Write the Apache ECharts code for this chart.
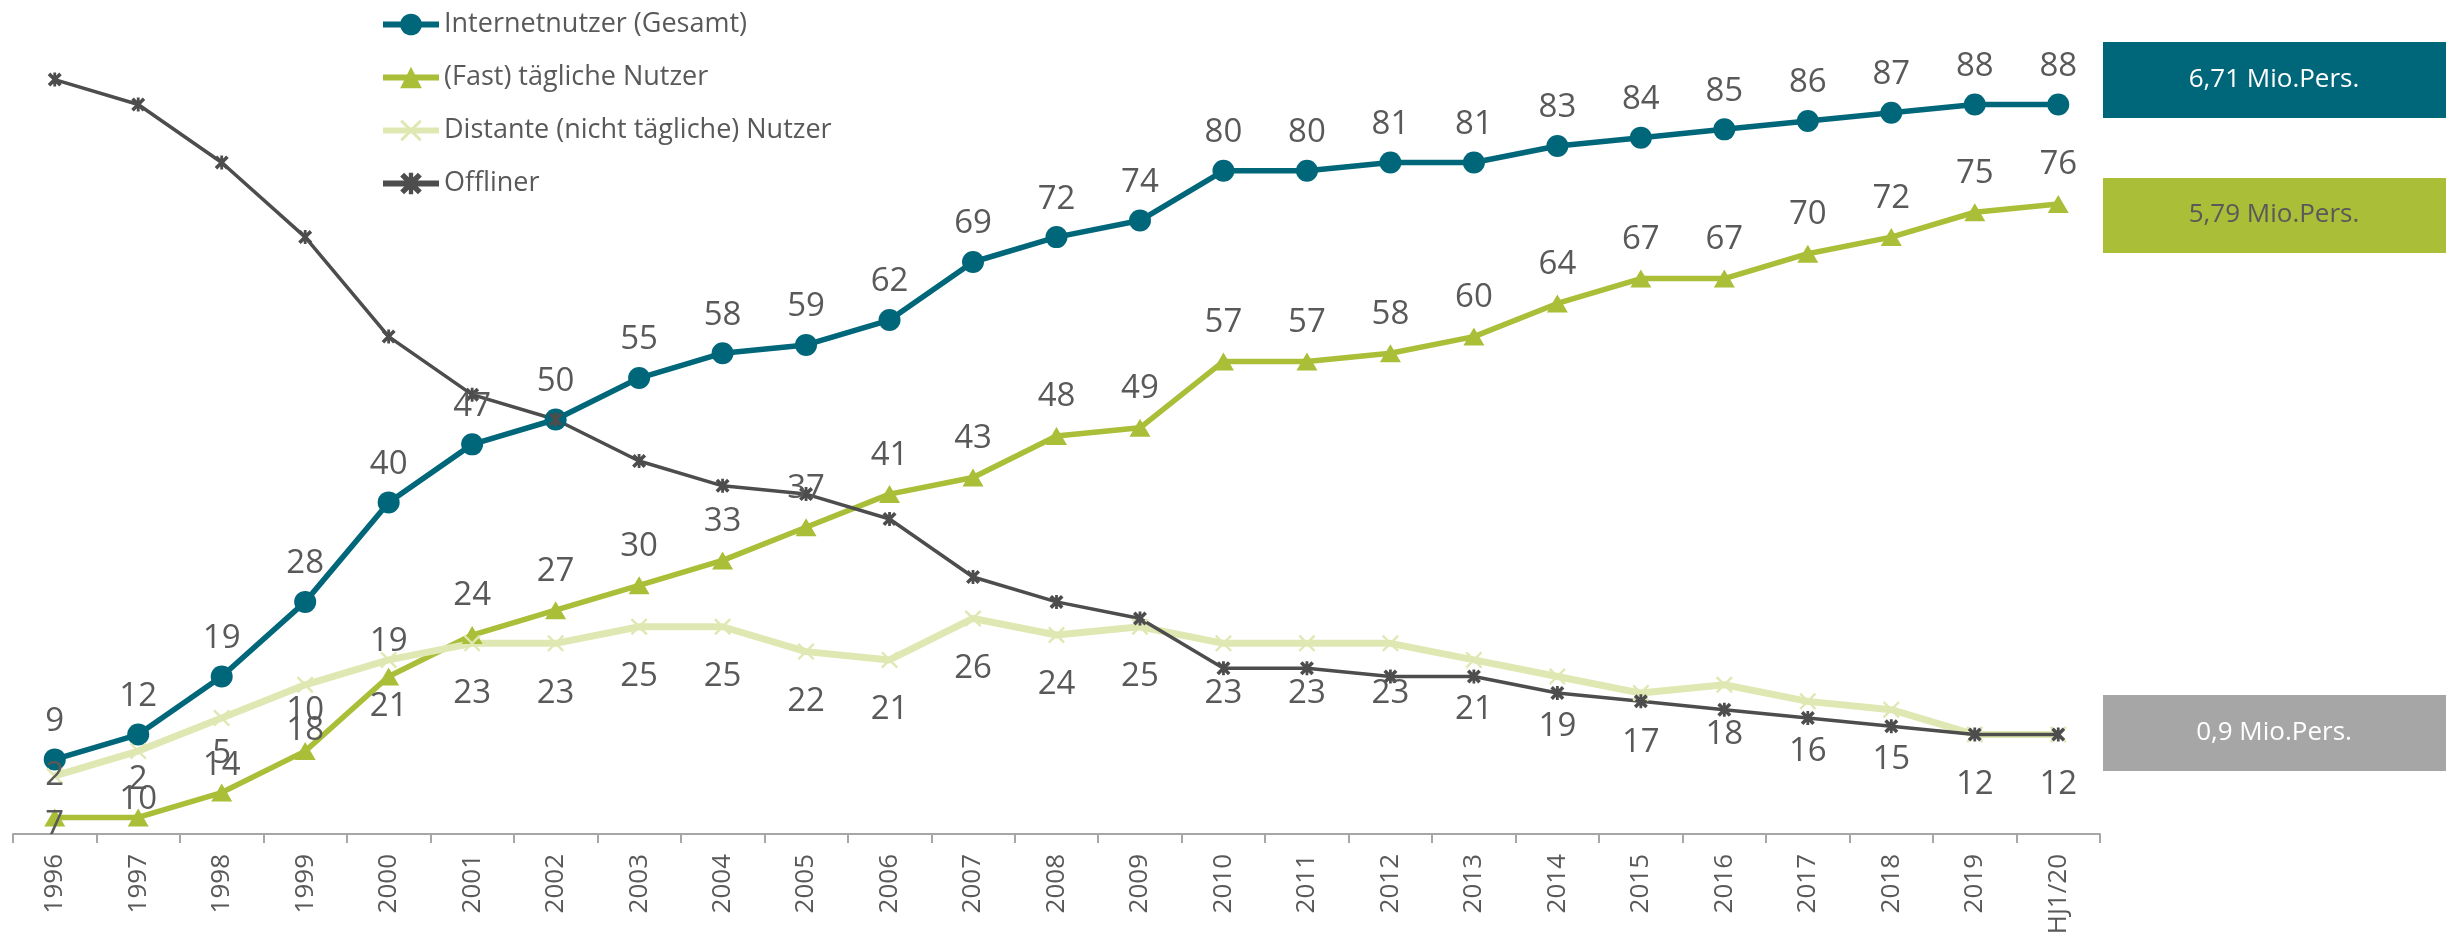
<!DOCTYPE html>
<html>
<head>
<meta charset="utf-8">
<script src="https://cdn.jsdelivr.net/npm/echarts@6/dist/echarts.min.js"></script>
<style>
html,body{margin:0;padding:0;background:#fff;}
#chart{width:2446px;height:936px;}
</style>
</head>
<body>
<div id="chart"></div>
<script>
// ---- data ----
var years = ['1996','1997','1998','1999','2000','2001','2002','2003','2004','2005','2006','2007','2008','2009','2010','2011','2012','2013','2014','2015','2016','2017','2018','2019','HJ1/20'];
var seriesNames = ['Internetnutzer (Gesamt)', '(Fast) tägliche Nutzer', 'Distante (nicht tägliche) Nutzer', 'Offliner'];
var internet = [9,12,19,28,40,47,50,55,58,59,62,69,72,74,80,80,81,81,83,84,85,86,87,88,88];
var dailyPlot = [2,2,5,10,19,24,27,30,33,37,41,43,48,49,57,57,58,60,64,67,67,70,72,75,76];
var dailyLabels = [7,10,14,18,21,24,27,30,33,37,41,43,48,49,57,57,58,60,64,67,67,70,72,75,76];
var distantPlot = [7,10,14,18,21,23,23,25,25,22,21,26,24,25,23,23,23,21,19,17,18,16,15,12,12];
var distantLabels = [2,2,5,10,19,23,23,25,25,22,21,26,24,25,23,23,23,21,19,17,18,16,15,12,12];
var offliner = [91,88,81,72,60,53,50,45,42,41,38,31,28,26,20,20,19,19,17,16,15,14,13,12,12];
var boxLabels = ['6,71 Mio.Pers.', '5,79 Mio.Pers.', '0,9 Mio.Pers.'];

// ---- styling / layout ----
var C_TEAL = '#00677a', C_OLIVE = '#aabe38', C_LIGHT = '#dfe8b2', C_DARK = '#4d4d4d', C_TXT = '#595959', C_GRAY = '#a6a6a6';
var FONT = "'Open Sans', 'Noto Sans', sans-serif";
var dailyOffsetY = [7,-18,-27,-21,30];      // special label offsets for first years
var distantOffsetY = [0,28,36,26,-18];
var xSym = 'path://M0,1 L1,0 L5,4 L9,0 L10,1 L6,5 L10,9 L9,10 L5,6 L1,10 L0,9 L4,5 Z';
var starSym = 'path://M0,1.8 L1.8,0 L5,3.2 L8.2,0 L10,1.8 L6.8,5 L10,8.2 L8.2,10 L5,6.8 L1.8,10 L0,8.2 L3.2,5 Z M4,0 L6,0 L6,10 L4,10 Z';

function lbl(offY){
  return {show:true, position:'inside', offset:[0,offY], color:C_TXT, fontSize:33, fontFamily:FONT};
}

var chart = echarts.init(document.getElementById('chart'));
chart.setOption({
  backgroundColor:'#fff',
  animation:false,
  grid:{left:13, right:346, top:5, bottom:102, containLabel:false, outerBoundsMode:'none'},
  legend:{
    orient:'vertical', left:375, top:6, itemWidth:56, itemHeight:27, itemGap:26,
    lineStyle:{width:6},
    textStyle:{color:C_TXT, fontSize:27, fontFamily:FONT},
    data:seriesNames
  },
  xAxis:{
    type:'category', data:years, boundaryGap:true,
    axisLine:{show:true, lineStyle:{color:C_GRAY, width:2}},
    axisTick:{show:true, length:9, lineStyle:{color:C_GRAY, width:2}},
    axisLabel:{rotate:90, interval:0, margin:20, color:C_TXT, fontSize:26, fontFamily:FONT},
    splitLine:{show:false}
  },
  yAxis:{type:'value', min:0, max:100, show:false, splitLine:{show:false}},
  series:[
    {
      name:seriesNames[0], type:'line', data:internet,
      symbol:'circle', symbolSize:22,
      lineStyle:{color:C_TEAL, width:5.5}, itemStyle:{color:C_TEAL},
      label:lbl(-38)
    },
    {
      name:seriesNames[1], type:'line',
      data:dailyPlot.map(function(v,i){ return {value:v, label:{offset:[0, i<dailyOffsetY.length ? dailyOffsetY[i] : -39]}}; }),
      symbol:'triangle', symbolSize:[21,18],
      lineStyle:{color:C_OLIVE, width:5.5}, itemStyle:{color:C_OLIVE},
      label:Object.assign(lbl(-39), {formatter:function(p){return String(dailyLabels[p.dataIndex]);}})
    },
    {
      name:seriesNames[2], type:'line',
      data:distantPlot.map(function(v,i){ return {value:v, label:{offset:[0, i<distantOffsetY.length ? distantOffsetY[i] : 50]}}; }),
      symbol:xSym, symbolSize:17,
      lineStyle:{color:C_LIGHT, width:7}, itemStyle:{color:C_LIGHT},
      label:Object.assign(lbl(50), {formatter:function(p){return String(distantLabels[p.dataIndex]);}})
    },
    {
      name:seriesNames[3], type:'line', data:offliner,
      symbol:starSym, symbolSize:14,
      lineStyle:{color:C_DARK, width:3.5}, itemStyle:{color:C_DARK},
      label:{show:false}
    }
  ],
  graphic:[
    {type:'rect', x:2103, y:42, shape:{width:343, height:76}, style:{fill:C_TEAL}},
    {type:'text', x:2274, y:80, style:{text:boxLabels[0], fill:'#fff', font:'26px ' + FONT, align:'center', verticalAlign:'middle'}},
    {type:'rect', x:2103, y:178, shape:{width:343, height:75}, style:{fill:C_OLIVE}},
    {type:'text', x:2274, y:215, style:{text:boxLabels[1], fill:C_TXT, font:'26px ' + FONT, align:'center', verticalAlign:'middle'}},
    {type:'rect', x:2103, y:695, shape:{width:343, height:76}, style:{fill:C_GRAY}},
    {type:'text', x:2274, y:733, style:{text:boxLabels[2], fill:'#fff', font:'26px ' + FONT, align:'center', verticalAlign:'middle'}}
  ]
});
</script>
</body>
</html>
